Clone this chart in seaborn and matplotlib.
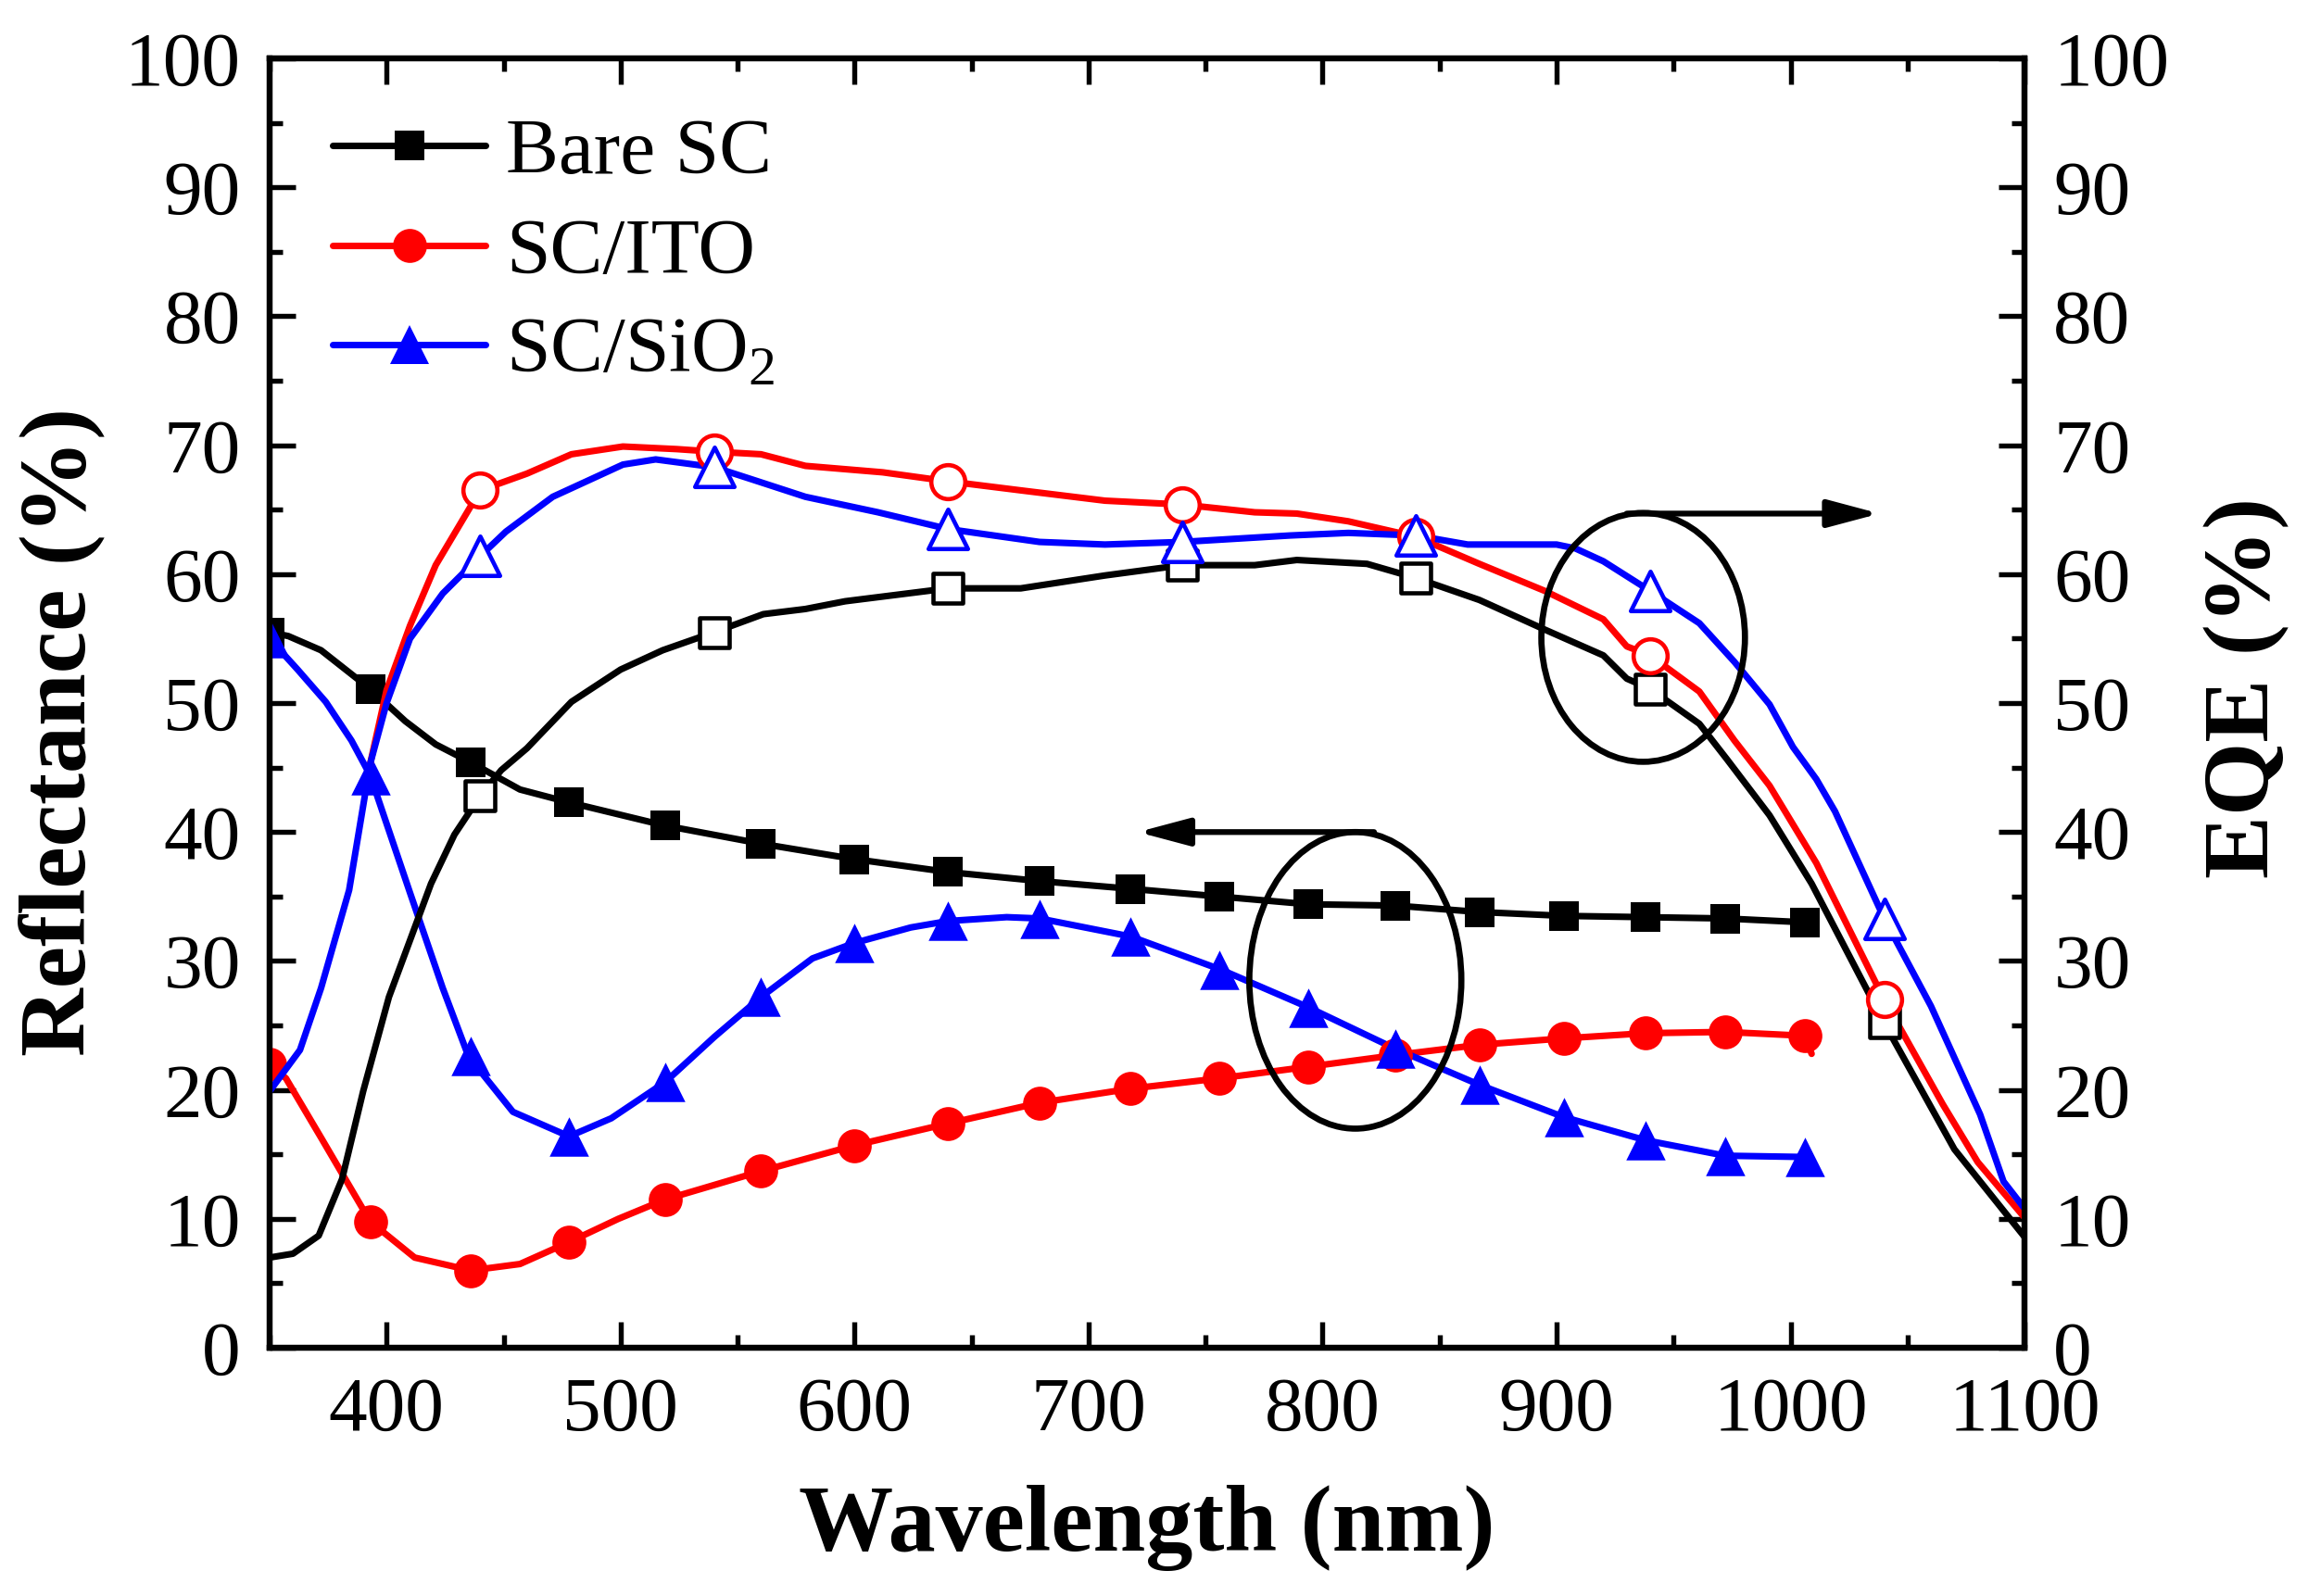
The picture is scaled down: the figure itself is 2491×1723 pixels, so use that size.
import numpy as np
import matplotlib
matplotlib.use("Agg")
import matplotlib.pyplot as plt
import seaborn as sns
from matplotlib.patches import Ellipse
from matplotlib.lines import Line2D
from matplotlib.ticker import MultipleLocator

# ---- reflectance (left axis), filled markers ----
ref_mark_wl = [350, 393, 436, 478, 519, 560, 600, 640, 679, 718, 756, 794, 831, 867, 903, 938, 972, 1006]
ref_bare_mark = [55.5, 51.1, 45.4, 42.3, 40.5, 39.1, 37.9, 36.9, 36.2, 35.6, 35.0, 34.4, 34.3, 33.8, 33.5, 33.4, 33.3, 33.0]
ref_ito_mark = [22.0, 9.8, 6.0, 8.2, 11.5, 13.7, 15.7, 17.4, 19.0, 20.1, 20.9, 21.8, 22.7, 23.5, 24.0, 24.4, 24.5, 24.2]
ref_sio2_mark = [55.0, 44.4, 22.6, 16.4, 20.6, 27.2, 31.4, 33.1, 33.3, 31.9, 29.3, 26.4, 23.2, 20.4, 17.9, 16.1, 14.9, 14.8]

ref_bare_wl = [350, 358, 372, 393, 408, 421, 436, 457, 478, 519, 560, 600, 640, 679, 718, 756, 794, 831, 867, 903, 938, 972, 1006]
ref_bare = [55.5, 55.2, 54.1, 51.1, 48.6, 46.8, 45.4, 43.3, 42.3, 40.5, 39.1, 37.9, 36.9, 36.2, 35.6, 35.0, 34.4, 34.3, 33.8, 33.5, 33.4, 33.3, 33.0]

ref_ito_wl = [350, 357, 372, 393, 412, 436, 457, 478, 499, 519, 560, 600, 640, 679, 718, 756, 794, 831, 867, 903, 938, 972, 1006, 1009]
ref_ito = [22.0, 20.9, 16.3, 9.8, 7.0, 6.0, 6.5, 8.2, 10.0, 11.5, 13.7, 15.7, 17.4, 19.0, 20.1, 20.9, 21.8, 22.7, 23.5, 24.0, 24.4, 24.5, 24.2, 22.8]

ref_sio2_wl = [350, 362, 374, 385, 393, 410, 424, 435, 454, 478, 496, 519, 540, 560, 582, 600, 624, 640, 665, 679, 718, 757, 794, 831, 867, 903, 938, 972, 1006]
ref_sio2 = [55.0, 52.6, 50.1, 47.1, 44.4, 35.3, 27.9, 22.6, 18.3, 16.4, 17.8, 20.6, 24.1, 27.2, 30.2, 31.4, 32.6, 33.1, 33.4, 33.3, 31.9, 29.3, 26.4, 23.2, 20.4, 17.9, 16.1, 14.9, 14.8]

# ---- EQE (right axis), open markers ----
eqe_mark_wl = [440, 540, 640, 740, 840, 940, 1040]
eqe_bare_mark = [42.8, 55.5, 58.9, 60.7, 59.7, 51.1, 25.2]
eqe_ito_mark = [66.5, 69.5, 67.2, 65.4, 62.9, 53.7, 27.0]
eqe_sio2_mark = [61.4, 68.3, 63.5, 62.5, 63.0, 58.7, 33.3]

eqe_bare_wl = [350, 360, 371, 381, 390, 401, 419, 429, 440, 449, 460, 479, 500, 518, 540, 561, 579, 596, 618, 640,
               671, 707, 740, 771, 789, 819, 840, 867, 895, 920, 930, 940, 961, 973, 991, 1009, 1040, 1070, 1100]
eqe_bare = [7.0, 7.3, 8.7, 13.1, 19.9, 27.2, 36.0, 39.8, 42.8, 44.8, 46.5, 50.1, 52.6, 54.1, 55.5, 56.9, 57.3, 57.9, 58.4, 58.9,
            58.9, 59.9, 60.7, 60.7, 61.1, 60.8, 59.7, 58.0, 55.7, 53.7, 51.9, 51.1, 48.4, 45.6, 41.3, 36.0, 25.2, 15.4, 8.6]

eqe_ito_wl = [393, 400, 410, 421, 440, 460, 479, 501, 524, 540, 560, 579, 612, 640, 671, 707, 740, 771, 789, 811,
              840, 867, 895, 920, 930, 940, 961, 976, 991, 1011, 1040, 1065, 1080, 1100]
eqe_ito = [45.3, 51.0, 56.0, 60.7, 66.5, 67.8, 69.3, 69.9, 69.7, 69.5, 69.3, 68.4, 67.9, 67.2, 66.5, 65.7, 65.4, 64.8, 64.7, 64.1,
           62.9, 60.8, 58.7, 56.5, 54.4, 53.7, 50.9, 47.1, 43.6, 37.6, 27.0, 18.9, 14.4, 10.1]

eqe_sio2_wl = [350, 363, 372, 384, 393, 400, 410, 424, 440, 451, 471, 501, 515, 540, 557, 579, 610, 640, 679, 707,
               740, 786, 811, 840, 862, 900, 908, 920, 940, 961, 976, 991, 1001, 1011, 1019, 1040, 1060, 1081, 1091, 1100]
eqe_sio2 = [19.9, 23.1, 27.9, 35.5, 45.3, 50.0, 55.0, 58.5, 61.4, 63.3, 66.0, 68.5, 68.9, 68.3, 67.3, 66.0, 64.8, 63.5, 62.5, 62.3,
            62.5, 63.0, 63.2, 63.0, 62.3, 62.3, 62.0, 61.0, 58.7, 56.2, 53.2, 49.9, 46.6, 44.1, 41.6, 33.3, 26.5, 18.1, 12.9, 10.8]

labels = ["Bare SC", "SC/ITO", "SC/SiO$_2$"]
colors = ["#000000", "#FF0000", "#0000FF"]

sns.set_theme(style="ticks")
plt.rcParams["font.family"] = ["Liberation Serif", "DejaVu Serif"]
plt.rcParams["mathtext.fontset"] = "custom"
plt.rcParams["mathtext.rm"] = "Liberation Serif"
for key in ["text.color", "axes.labelcolor", "xtick.color", "ytick.color", "axes.edgecolor"]:
    plt.rcParams[key] = "black"

fig = plt.figure(figsize=(2491 / 300, 1723 / 300), dpi=300)
ax = fig.add_axes([0.1168, 0.1555, 0.7604, 0.8079])
ax2 = ax.twinx()

lw = 1.7
# reflectance lines + filled markers
ref_sets = [(ref_bare_wl, ref_bare, ref_bare_mark, "s", 7.8),
            (ref_ito_wl, ref_ito, ref_ito_mark, "o", 8.8),
            (ref_sio2_wl, ref_sio2, ref_sio2_mark, "^", 10.2)]
for (wl, vals, mk, m, ms), c in zip(ref_sets, colors):
    sns.lineplot(x=wl, y=vals, ax=ax, color=c, linewidth=lw, estimator=None, sort=False, legend=False, zorder=2)
    sns.scatterplot(x=ref_mark_wl, y=mk, ax=ax, marker=m, s=ms ** 2, color=c, edgecolor=c, linewidth=0,
                    legend=False, zorder=3)

# EQE lines + open markers
eqe_sets = [(eqe_bare_wl, eqe_bare, eqe_bare_mark, "s", 7.8),
            (eqe_ito_wl, eqe_ito, eqe_ito_mark, "o", 8.8),
            (eqe_sio2_wl, eqe_sio2, eqe_sio2_mark, "^", 10.2)]
for (wl, vals, mk, m, ms), c in zip(eqe_sets, colors):
    sns.lineplot(x=wl, y=vals, ax=ax2, color=c, linewidth=lw, estimator=None, sort=False, legend=False, zorder=2)
    sns.scatterplot(x=eqe_mark_wl, y=mk, ax=ax2, marker=m, s=ms ** 2, color="white", edgecolor=c, linewidth=1.1,
                    legend=False, zorder=3)

# axes limits / ticks
for a in (ax, ax2):
    a.set_xlim(350, 1100)
    a.set_ylim(0, 100)
    a.yaxis.set_major_locator(MultipleLocator(10))
    a.yaxis.set_minor_locator(MultipleLocator(5))
ax.xaxis.set_major_locator(MultipleLocator(100))
ax.xaxis.set_minor_locator(MultipleLocator(50))

tick_kw = dict(direction="in", colors="black", labelsize=20)
ax.tick_params(axis="both", which="major", length=6.7, width=1.3, **tick_kw)
ax.tick_params(axis="both", which="minor", length=3.3, width=1.3, **tick_kw)
ax.tick_params(axis="x", which="both", top=True, pad=7.5)
ax.tick_params(axis="y", which="both", left=True, right=False, pad=7.5)
ax2.tick_params(axis="y", which="major", length=6.7, width=1.3, right=True, pad=7.5, **tick_kw)
ax2.tick_params(axis="y", which="minor", length=3.3, width=1.3, right=True, **tick_kw)
for a in (ax, ax2):
    for s in a.spines.values():
        s.set_linewidth(1.5)
        s.set_color("black")

ax.set_xlabel("Wavelength (nm)", fontsize=24.5, fontweight="bold", labelpad=10)
ax.set_ylabel("Reflectance (%)", fontsize=24.5, fontweight="bold")
ax2.set_ylabel("EQE (%)", fontsize=24.5, fontweight="bold", rotation=90)
ax.yaxis.set_label_coords(-0.093, 0.478)
ax2.yaxis.set_label_coords(1.102, 0.512)

# annotations: ellipses and arrows
ax2.add_patch(Ellipse((814, 28.5), 90.6, 23.0, fill=False, edgecolor="black", linewidth=1.6, zorder=4))
ax2.add_patch(Ellipse((937, 55.1), 87.0, 19.3, fill=False, edgecolor="black", linewidth=1.6, zorder=4))
arrow_kw = dict(arrowstyle="-|>,head_length=0.45,head_width=0.12", color="black", lw=1.5,
                mutation_scale=25, shrinkA=0, shrinkB=0)
ax2.annotate("", xy=(721, 40.0), xytext=(822, 40.0), arrowprops=arrow_kw, zorder=4)
ax2.annotate("", xy=(1038, 64.7), xytext=(930, 64.7), arrowprops=arrow_kw, zorder=4)

# legend
handles = [Line2D([], [], color=c, lw=lw, marker=m, markersize=ms, markerfacecolor=c, markeredgecolor=c,
                  markeredgewidth=0)
           for c, m, ms in zip(colors, ["s", "o", "^"], [7.8, 8.8, 10.2])]
ax2.legend(handles, labels, loc="upper left", bbox_to_anchor=(0.036, 0.954), frameon=False, fontsize=20.5,
           handlelength=1.93, handletextpad=0.26, labelspacing=0.35, borderpad=0, borderaxespad=0)

fig.savefig("out.png", dpi=300, facecolor="white")
